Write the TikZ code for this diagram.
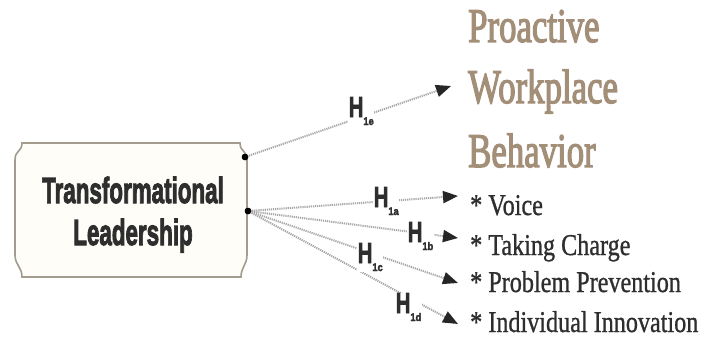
\documentclass[tikz,border=0pt]{standalone}
\usepackage{fontspec}
\setmainfont{Liberation Serif}
\newfontfamily\sansheavy{Liberation Sans Bold}[FakeBold=3]
\newfontfamily\headf{Liberation Serif}[FakeBold=3]
\newfontfamily\itemf{Liberation Serif}[FakeBold=1]
\usetikzlibrary{arrows.meta}
\definecolor{headtan}{HTML}{A38F78}
\definecolor{boxline}{HTML}{A39C8E}
\definecolor{boxfill}{HTML}{FFFDF8}
\definecolor{txtgray}{HTML}{2E2E2E}
\definecolor{linegray}{HTML}{A8A8A8}
\newcommand{\hyp}[1]{\scalebox{0.7}[1]{\fontsize{29}{29}\selectfont H}\raisebox{-8pt}{\scalebox{0.85}[1]{\fontsize{11}{11}\selectfont #1}}}
\begin{document}
\begin{tikzpicture}[x=1pt,y=-1pt,
  conn/.style={draw=linegray, line width=2pt, dash pattern=on 1.2pt off 0.9pt,
    -{Triangle[length=15pt,width=12pt,color=black!85]}, shorten <=2pt},
  hlabel/.style={fill=white, inner sep=0.5pt, anchor=base west, font=\sansheavy, text=txtgray},
  boxtext/.style={inner sep=0pt, anchor=base, font=\sansheavy, text=txtgray},
  headtext/.style={inner sep=0pt, anchor=base west, font=\headf, text=headtan},
  itemtext/.style={inner sep=0pt, anchor=base west, font=\itemf, text=txtgray},
  dot/.style={circle, fill=black, inner sep=0pt, minimum size=6.5pt}]
\useasboundingbox (0,0) rectangle (720,345);
% box
\draw[draw=boxline, fill=boxfill, line width=1.6pt]
  (22,143) -- (240,143) .. controls (240,152) and (247,150) .. (247,160)
  -- (247,255) .. controls (247,265) and (241,267) .. (241,277)
  -- (22,277) .. controls (22,267) and (15,265) .. (15,255)
  -- (15,160) .. controls (15,150) and (22,152) .. (22,143) -- cycle;
\node[boxtext] (tl1) at (133,203) {\scalebox{0.617}[1]{\fontsize{36.3}{36.3}\selectfont Transformational}};
\node[boxtext] (tl2) at (133,245) {\scalebox{0.617}[1]{\fontsize{36.3}{36.3}\selectfont Leadership}};
% dots
\node[dot] (d1) at (245,157) {};
\node[dot] (d2) at (248,211) {};
% targets
\coordinate (t1e) at (451,86);
\coordinate (t1a) at (458,196);
\coordinate (t1b) at (458,238);
\coordinate (t1c) at (458,283);
\coordinate (t1d) at (458,324);
% connectors
\draw[conn] (d1.center) -- (t1e);
\draw[conn] (d2.center) -- (t1a);
\draw[conn] (d2.center) -- (t1b);
\draw[conn] (d2.center) -- (t1c);
\draw[conn] (d2.center) -- (t1d);
\node[dot] at (d1) {};
\node[dot] at (d2) {};
% labels
\node[hlabel] (h1e) at (348,117) {\hyp{1e}};
\node[hlabel] (h1a) at (373,207) {\hyp{1a}};
\node[hlabel] (h1b) at (407,242) {\hyp{1b}};
\node[hlabel] (h1c) at (357,263) {\hyp{1c}};
\node[hlabel] (h1d) at (395,313) {\hyp{1d}};
% heading
\node[headtext] (p1) at (468,42) {\scalebox{0.72}[1]{\fontsize{48.3}{48.3}\selectfont Proactive}};
\node[headtext] (p2) at (468,103) {\scalebox{0.72}[1]{\fontsize{48.3}{48.3}\selectfont Workplace}};
\node[headtext] (p3) at (468,167) {\scalebox{0.72}[1]{\fontsize{48.3}{48.3}\selectfont Behavior}};
% items
\node[itemtext] (i1) at (470,215) {\scalebox{0.8}[1]{\fontsize{30.2}{30.2}\selectfont * Voice}};
\node[itemtext] (i2) at (470,255) {\scalebox{0.8}[1]{\fontsize{30.2}{30.2}\selectfont * Taking Charge}};
\node[itemtext] (i3) at (470,292) {\scalebox{0.8}[1]{\fontsize{30.2}{30.2}\selectfont * Problem Prevention}};
\node[itemtext] (i4) at (470,332) {\scalebox{0.8}[1]{\fontsize{30.2}{30.2}\selectfont * Individual Innovation}};
\end{tikzpicture}
\end{document}
